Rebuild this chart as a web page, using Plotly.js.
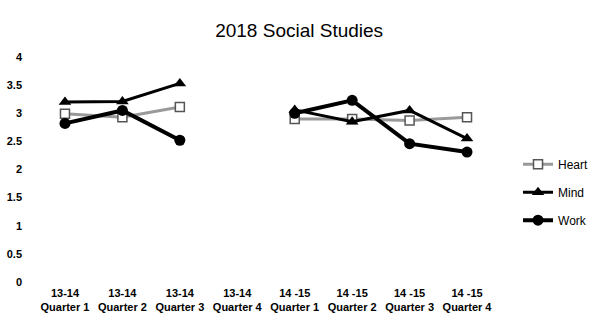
<!DOCTYPE html>
<html>
<head>
<meta charset="utf-8">
<script src="https://cdn.plot.ly/plotly-3.0.1.min.js"></script>
<style>html,body{margin:0;padding:0;background:#fff;}#chart{width:608px;height:324px;}</style>
</head>
<body>
<div id="chart"></div>
<script>
const years = ["13-14", "13-14", "13-14", "13-14", "14 -15", "14 -15", "14 -15", "14 -15"];
const quarters = ["Quarter 1", "Quarter 2", "Quarter 3", "Quarter 4", "Quarter 1", "Quarter 2", "Quarter 3", "Quarter 4"];
const heart = [2.99, 2.93, 3.11, null, 2.90, 2.90, 2.87, 2.93];
const mind = [3.20, 3.21, 3.53, null, 3.06, 2.85, 3.05, 2.55];
const work = [2.82, 3.05, 2.52, null, 3.00, 3.23, 2.46, 2.31];
const yTicks = [0, 0.5, 1, 1.5, 2, 2.5, 3, 3.5, 4];

const cats = years.map((y, i) => y + "<br>" + quarters[i]);
const font = "Liberation Sans, Arial, sans-serif";

const traces = [
  {x: cats, y: heart, name: "Heart", type: "scatter", mode: "lines+markers", connectgaps: false,
   legendgroup: "h",
   line: {color: "#999999", width: 3},
   marker: {symbol: "square", size: 9, color: "#ffffff", line: {color: "#555555", width: 1.5}}},
  {x: cats, y: mind, name: "Mind", type: "scatter", mode: "lines+markers", connectgaps: false,
   legendgroup: "m",
   line: {color: "#000000", width: 3},
   marker: {symbol: "triangle-up", size: 11, color: "#000000"}},
  {x: cats, y: work, name: "Work", type: "scatter", mode: "lines+markers", connectgaps: false,
   legendgroup: "w",
   line: {color: "#000000", width: 4},
   marker: {symbol: "circle", size: 11, color: "#000000"}}
];

const layout = {
  width: 608, height: 324,
  margin: {l: 35, r: 111, t: 57, b: 42, pad: 0},
  paper_bgcolor: "#ffffff", plot_bgcolor: "#ffffff",
  font: {family: font, size: 11, color: "#000000"},
  title: {text: "2018 Social Studies", font: {family: font, size: 19, color: "#000000"},
          x: 0.492, xref: "container", xanchor: "center", y: 0.907, yref: "container", yanchor: "middle"},
  xaxis: {type: "category", categoryorder: "array", categoryarray: cats,
          showgrid: false, zeroline: false, showline: false, ticks: "",
          tickfont: {family: font, size: 11, color: "#000000", weight: "bold"}, ticklabelstandoff: 3, fixedrange: true},
  yaxis: {range: [0, 4], tickvals: yTicks, ticktext: yTicks.map(String),
          showgrid: false, zeroline: false, showline: false, ticks: "",
          tickfont: {family: font, size: 11, color: "#000000", weight: "bold"}, ticklabelstandoff: 12, fixedrange: true},
  showlegend: true,
  legend: {x: 0.852, xref: "container", xanchor: "left", y: 0.407, yref: "container", yanchor: "middle",
           font: {family: font, size: 12, color: "#000000"}, traceorder: "grouped", tracegroupgap: 9,
           itemwidth: 30, bgcolor: "rgba(0,0,0,0)"}
};

Plotly.newPlot("chart", traces, layout, {displayModeBar: false, staticPlot: true});
</script>
</body>
</html>
